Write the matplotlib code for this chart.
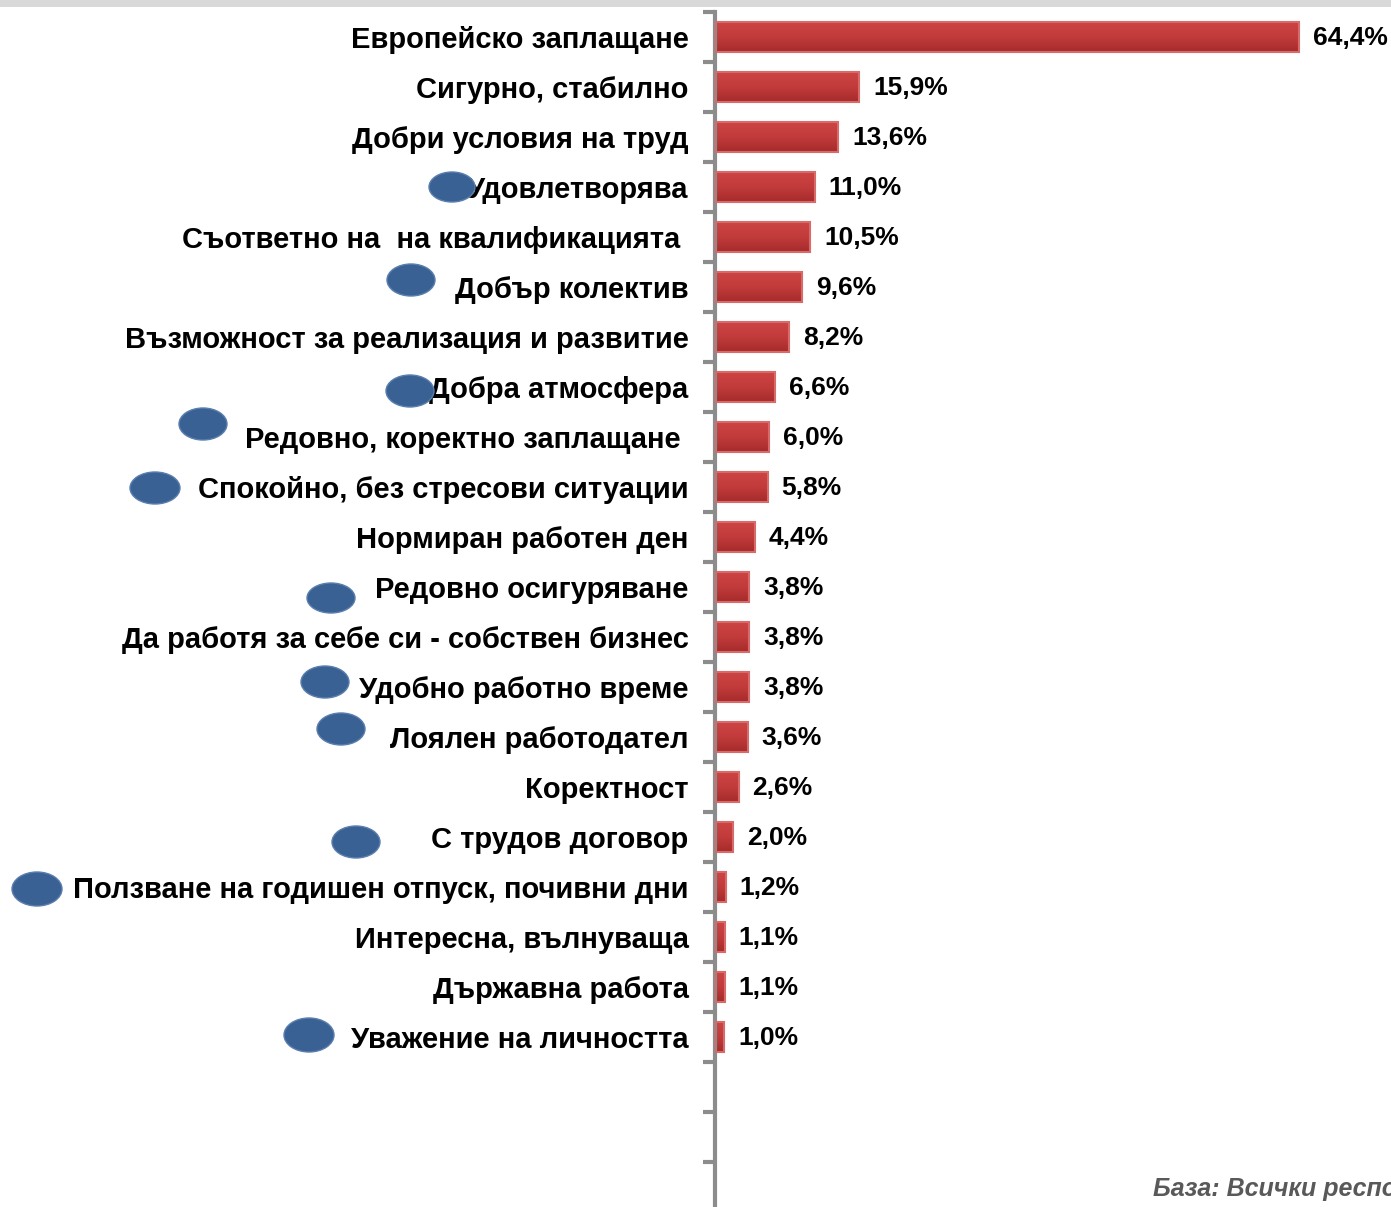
import numpy as np
import matplotlib
matplotlib.use('Agg')
import matplotlib.pyplot as plt
from matplotlib.patches import Ellipse, Rectangle
from matplotlib.colors import LinearSegmentedColormap

# Данни
categories = ['Европейско заплащане', 'Сигурно, стабилно', 'Добри условия на труд',
              'Удовлетворява', 'Съответно на  на квалификацията ', 'Добър колектив',
              'Възможност за реализация и развитие', 'Добра атмосфера',
              'Редовно, коректно заплащане ', 'Спокойно, без стресови ситуации',
              'Нормиран работен ден', 'Редовно осигуряване',
              'Да работя за себе си - собствен бизнес', 'Удобно работно време',
              'Лоялен работодател', 'Коректност', 'С трудов договор',
              'Ползване на годишен отпуск, почивни дни', 'Интересна, вълнуваща',
              'Държавна работа', 'Уважение на личността']
values = [64.4, 15.9, 13.6, 11.0, 10.5, 9.6, 8.2, 6.6, 6.0, 5.8, 4.4,
          3.8, 3.8, 3.8, 3.6, 2.6, 2.0, 1.2, 1.1, 1.1, 1.0]
value_labels = [f'{v:.1f}%'.replace('.', ',') for v in values]
footnote = 'База: Всички респонденти'

# декоративни сини елипси (пиксели: x, y отгоре, ширина, височина)
blobs = [(452, 187, 46, 30), (411, 280, 48, 32), (410, 391, 48, 32),
         (203, 424, 48, 32), (155, 488, 50, 32), (331, 598, 48, 30),
         (325, 682, 48, 32), (341, 729, 48, 32), (356, 842, 48, 32),
         (37, 889, 50, 34), (309, 1035, 50, 34)]

W, H = 1391, 1207
plt.rcParams['font.family'] = ['Liberation Sans', 'DejaVu Sans']

fig = plt.figure(figsize=(W / 100, H / 100), dpi=100)
fig.patch.set_facecolor('white')

# оста: от x=715 до десния край, от y=12 надолу (24 слота по 50 px)
ax = fig.add_axes([715 / W, (H - 12 - 1200) / H, (W - 715) / W, 1200 / H])
n_slots = 24
xmax = (W - 715) / 9.07

grad = LinearSegmentedColormap.from_list('bar', ['#cc4444', '#c23b3b', '#a52b2b'])
g = np.linspace(0, 1, 50).reshape(-1, 1)
bh = 0.6
for i, v in enumerate(values):
    ax.imshow(g, cmap=grad, extent=[0, v, i + bh / 2, i - bh / 2],
              aspect='auto', zorder=2, interpolation='bilinear')
    ax.add_patch(Rectangle((0, i - bh / 2), v, bh, fill=False,
                           edgecolor='#d86a6a', linewidth=1.5, zorder=3))
    ax.annotate(value_labels[i], (v, i), xytext=(10, -1), textcoords='offset points',
                va='center', ha='left', fontsize=19, fontweight='bold', color='black')
ax.set_ylim(n_slots - 0.5, -0.5)
ax.set_xlim(0, xmax)

ax.set_yticks(range(len(categories)), categories, fontsize=21, fontweight='bold')
ax.set_yticks(np.arange(-0.5, n_slots), minor=True)
ax.tick_params(axis='y', which='major', length=0, pad=19)
ax.tick_params(axis='y', which='minor', length=9, width=3, color='#8c8c8c', direction='out')
ax.set_xticks([])
for s in ['top', 'right', 'bottom']:
    ax.spines[s].set_visible(False)
ax.spines['left'].set_color('#8c8c8c')
ax.spines['left'].set_linewidth(3)

# сива лента горе
fig.add_artist(Rectangle((0, 1 - 7 / H), 1, 7 / H, transform=fig.transFigure,
                         facecolor='#d9d9d9', edgecolor='none', zorder=0))

for x, y, w, h in blobs:
    fig.add_artist(Ellipse((x / W, 1 - y / H), w / W, h / H, transform=fig.transFigure,
                           facecolor='#3a6193', edgecolor='#5a7fae', linewidth=1, zorder=10))

fig.text(1153 / W, 1 - 1189 / H, footnote, fontsize=18, fontweight='bold',
         fontstyle='italic', color='#595959', va='center', ha='left')

fig.savefig('out.png', dpi=100)
